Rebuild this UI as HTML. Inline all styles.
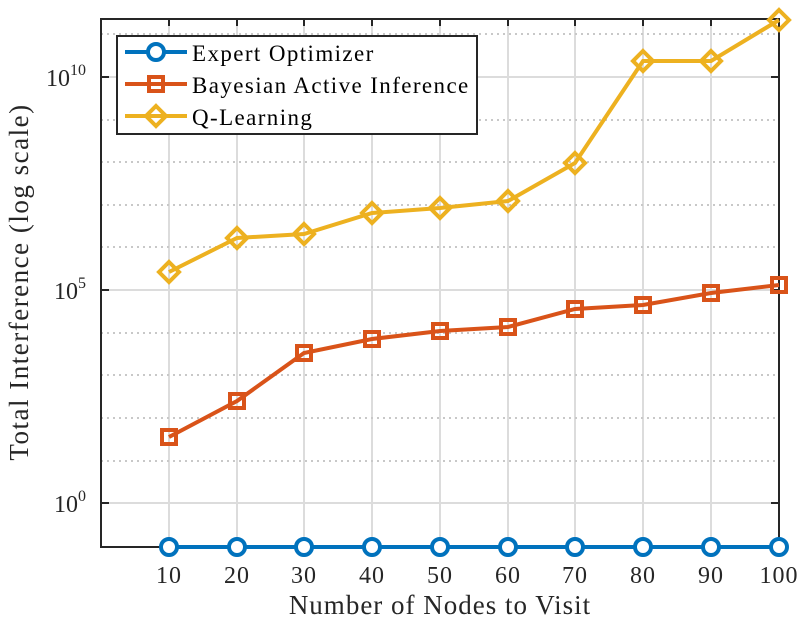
<!DOCTYPE html>
<html><head><style>body{margin:0;background:#fff}svg{display:block}</style></head><body>
<svg width="804" height="623" xmlns="http://www.w3.org/2000/svg" font-family="Liberation Serif, serif">
<rect width="804" height="623" fill="#fff"/>
<g stroke="#dcdcdc" stroke-width="2">
<line x1="169" y1="19" x2="169" y2="547"/><line x1="237" y1="19" x2="237" y2="547"/><line x1="304" y1="19" x2="304" y2="547"/><line x1="372" y1="19" x2="372" y2="547"/><line x1="440" y1="19" x2="440" y2="547"/><line x1="508" y1="19" x2="508" y2="547"/><line x1="575" y1="19" x2="575" y2="547"/><line x1="643" y1="19" x2="643" y2="547"/><line x1="711" y1="19" x2="711" y2="547"/>
<line x1="101" y1="77" x2="779" y2="77"/><line x1="101" y1="290" x2="779" y2="290"/><line x1="101" y1="503" x2="779" y2="503"/>
</g>
<g stroke="#c8c8c8" stroke-width="2" stroke-dasharray="2,4">
<line x1="101" y1="34" x2="779" y2="34"/><line x1="101" y1="120" x2="779" y2="120"/><line x1="101" y1="162" x2="779" y2="162"/><line x1="101" y1="205" x2="779" y2="205"/><line x1="101" y1="247" x2="779" y2="247"/>
<line x1="101" y1="333" x2="779" y2="333"/><line x1="101" y1="375" x2="779" y2="375"/><line x1="101" y1="418" x2="779" y2="418"/><line x1="101" y1="461" x2="779" y2="461"/>
</g>
<rect x="101" y="19" width="678" height="528" fill="none" stroke="#262626" stroke-width="2"/>
<g stroke="#262626" stroke-width="2">
<line x1="101" y1="77" x2="109" y2="77"/><line x1="101" y1="290" x2="109" y2="290"/><line x1="101" y1="503" x2="109" y2="503"/>
<line x1="779" y1="77" x2="771" y2="77"/><line x1="779" y1="290" x2="771" y2="290"/><line x1="779" y1="503" x2="771" y2="503"/>
<line x1="169" y1="19" x2="169" y2="26"/><line x1="237" y1="19" x2="237" y2="26"/><line x1="304" y1="19" x2="304" y2="26"/><line x1="372" y1="19" x2="372" y2="26"/><line x1="440" y1="19" x2="440" y2="26"/><line x1="508" y1="19" x2="508" y2="26"/><line x1="575" y1="19" x2="575" y2="26"/><line x1="643" y1="19" x2="643" y2="26"/><line x1="711" y1="19" x2="711" y2="26"/>
</g>
<polyline fill="none" stroke="#D95319" stroke-width="4" points="169,437 237,401 304,353 372,339 440,331 508,327 575,309 643,305 711,293 779,285"/>
<g fill="none" stroke="#D95319" stroke-width="4">
<rect x="162" y="430" width="14" height="14"/><rect x="230" y="394" width="14" height="14"/><rect x="297" y="346" width="14" height="14"/><rect x="365" y="332" width="14" height="14"/><rect x="433" y="324" width="14" height="14"/><rect x="501" y="320" width="14" height="14"/><rect x="568" y="302" width="14" height="14"/><rect x="636" y="298" width="14" height="14"/><rect x="704" y="286" width="14" height="14"/><rect x="772" y="278" width="14" height="14"/>
</g>
<polyline fill="none" stroke="#EDB120" stroke-width="4" points="169,272 237,238 304,234 372,213 440,208 508,201 575,163 643,61 711,61 779,20"/>
<g fill="none" stroke="#EDB120" stroke-width="4">
<path d="M169,262l10,10l-10,10l-10,-10z"/><path d="M237,228l10,10l-10,10l-10,-10z"/><path d="M304,224l10,10l-10,10l-10,-10z"/><path d="M372,203l10,10l-10,10l-10,-10z"/><path d="M440,198l10,10l-10,10l-10,-10z"/><path d="M508,191l10,10l-10,10l-10,-10z"/><path d="M575,153l10,10l-10,10l-10,-10z"/><path d="M643,51l10,10l-10,10l-10,-10z"/><path d="M711,51l10,10l-10,10l-10,-10z"/><path d="M779,10l10,10l-10,10l-10,-10z"/>
</g>
<line x1="169" y1="547" x2="779" y2="547" stroke="#0072BD" stroke-width="4"/>
<g fill="#fff" stroke="#0072BD" stroke-width="4">
<circle cx="169" cy="547" r="8"/><circle cx="237" cy="547" r="8"/><circle cx="304" cy="547" r="8"/><circle cx="372" cy="547" r="8"/><circle cx="440" cy="547" r="8"/><circle cx="508" cy="547" r="8"/><circle cx="575" cy="547" r="8"/><circle cx="643" cy="547" r="8"/><circle cx="711" cy="547" r="8"/><circle cx="779" cy="547" r="8"/>
</g>
<g font-size="24" fill="#262626" text-anchor="middle" letter-spacing="1">
<text x="169" y="583">10</text><text x="237" y="583">20</text><text x="304" y="583">30</text><text x="372" y="583">40</text><text x="440" y="583">50</text><text x="508" y="583">60</text><text x="575" y="583">70</text><text x="643" y="583">80</text><text x="711" y="583">90</text><text x="779" y="583">100</text>
</g>
<g font-size="24" fill="#262626" text-anchor="end">
<text x="86" y="86">10<tspan font-size="16" dy="-11">10</tspan></text>
<text x="86" y="299">10<tspan font-size="16" dy="-11">5</tspan></text>
<text x="86" y="512">10<tspan font-size="16" dy="-11">0</tspan></text>
</g>
<text x="440" y="614" font-size="27" text-anchor="middle" fill="#262626" letter-spacing="1">Number of Nodes to Visit</text>
<text transform="translate(28,282) rotate(-90)" font-size="27" text-anchor="middle" fill="#262626" letter-spacing="1.5">Total Interference (log scale)</text>
<rect x="117" y="36" width="360" height="98" fill="#fff" stroke="#262626" stroke-width="2"/>
<line x1="125" y1="52" x2="187" y2="52" stroke="#0072BD" stroke-width="4"/><circle cx="156" cy="52" r="8" fill="#fff" stroke="#0072BD" stroke-width="4"/>
<line x1="125" y1="84" x2="187" y2="84" stroke="#D95319" stroke-width="4"/><rect x="149" y="77" width="14" height="14" fill="none" stroke="#D95319" stroke-width="4"/>
<line x1="125" y1="116" x2="187" y2="116" stroke="#EDB120" stroke-width="4"/><path d="M156,106l10,10l-10,10l-10,-10z" fill="none" stroke="#EDB120" stroke-width="4"/>
<g font-size="23" fill="#000" letter-spacing="1.4">
<text x="192" y="61">Expert Optimizer</text>
<text x="192" y="93">Bayesian Active Inference</text>
<text x="192" y="125">Q-Learning</text>
</g>
</svg>
</body></html>
